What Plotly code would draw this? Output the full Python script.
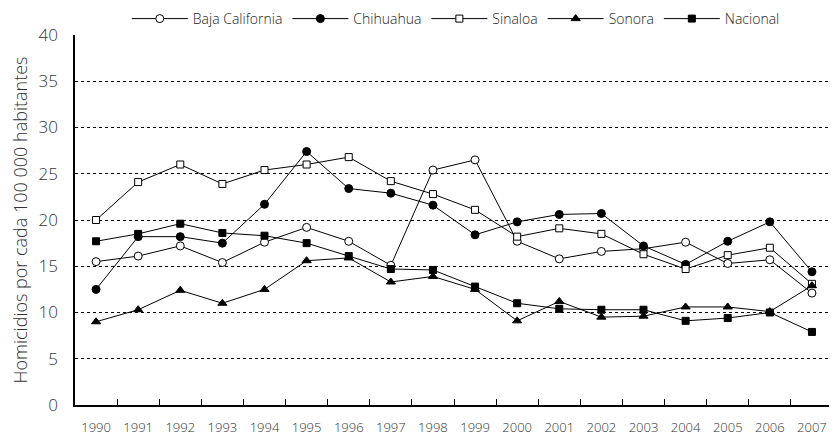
import plotly.graph_objects as go

years = [str(y) for y in range(1990, 2008)]

baja_california = [15.5, 16.1, 17.2, 15.4, 17.6, 19.2, 17.7, 15.1, 25.4, 26.5,
                   17.7, 15.8, 16.6, 16.9, 17.6, 15.3, 15.7, 12.1]
chihuahua = [12.5, 18.2, 18.2, 17.5, 21.7, 27.4, 23.4, 22.9, 21.6, 18.4,
             19.8, 20.6, 20.7, 17.2, 15.2, 17.7, 19.8, 14.4]
sinaloa = [20.0, 24.1, 26.0, 23.9, 25.4, 26.0, 26.8, 24.2, 22.8, 21.1,
           18.2, 19.1, 18.5, 16.3, 14.7, 16.2, 17.0, 13.1]
sonora = [9.0, 10.3, 12.4, 11.0, 12.5, 15.6, 15.9, 13.3, 13.9, 12.5,
          9.1, 11.2, 9.5, 9.6, 10.6, 10.6, 10.1, 12.9]
nacional = [17.7, 18.5, 19.6, 18.6, 18.3, 17.5, 16.1, 14.7, 14.6, 12.8,
            11.0, 10.4, 10.3, 10.3, 9.1, 9.4, 10.0, 7.9]

y_ticks = [0, 5, 10, 15, 20, 25, 30, 35, 40]

series = [
    ("Baja California", baja_california, "circle", "white", 8),
    ("Chihuahua", chihuahua, "circle", "black", 8),
    ("Sinaloa", sinaloa, "square", "white", 7),
    ("Sonora", sonora, "triangle-up", "black", 8),
    ("Nacional", nacional, "square", "black", 7),
]

fig = go.Figure()
for name, vals, sym, fill, size in series:
    fig.add_trace(go.Scatter(
        x=years, y=vals, name=name, mode="lines+markers",
        line=dict(color="black", width=1),
        marker=dict(symbol=sym, size=size, color=fill,
                    line=dict(color="black", width=1)),
    ))

base_font = "Open Sans, sans-serif"

# the page body adds an 8px offset, so margins are trimmed by 8
fig.update_layout(
    width=837, height=440,
    margin=dict(l=67, r=12, t=27, b=43),
    plot_bgcolor="white", paper_bgcolor="white",
    font=dict(family=base_font, color="#333333", weight=300),
    legend=dict(orientation="h", x=0.535, xanchor="center", xref="container",
                y=0.975, yanchor="middle", yref="container",
                font=dict(size=14, color="#222222"), itemwidth=56,
                tracegroupgap=0),
    xaxis=dict(
        type="category", range=[-0.5, 17.5], showgrid=False, automargin=False,
        showline=True, linecolor="black", linewidth=1.5,
        ticks="inside", tickson="boundaries", ticklen=6, tickcolor="black",
        tickfont=dict(size=13), tickangle=0, ticklabelstandoff=10,
        fixedrange=True,
    ),
    yaxis=dict(
        range=[0, 40], tickvals=y_ticks, showline=True, linecolor="black",
        linewidth=1.5, showgrid=True, gridcolor="black", gridwidth=1,
        griddash="dot", zeroline=False, ticks="", tickfont=dict(size=17),
        ticklabelstandoff=12, automargin=False,
        title=dict(text="Homicidios por cada 100 000 habitantes",
                   font=dict(size=18), standoff=11),
    ),
)

fig.write_html("out.html")
